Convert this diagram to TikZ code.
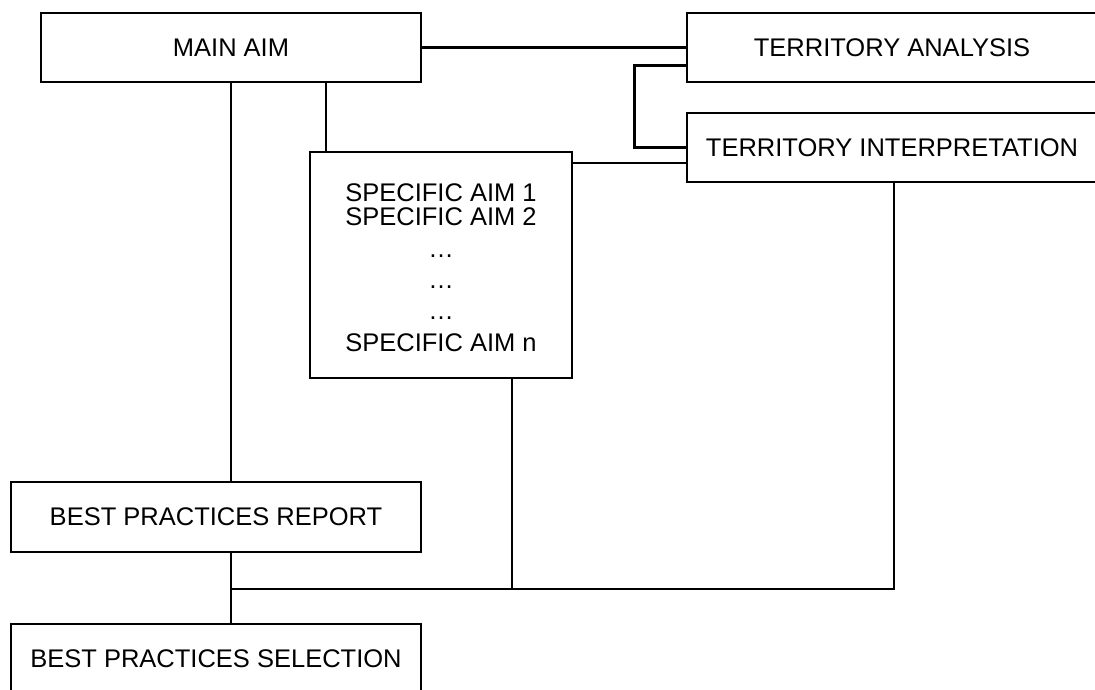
\documentclass[tikz,border=0pt]{standalone}
\usepackage{fontspec}
\setmainfont{Liberation Sans}
\tikzset{box/.style={draw, rectangle, minimum height=69pt, inner sep=0pt,
    font=\fontsize{25.5}{24}\selectfont}}
\begin{document}
\begin{tikzpicture}[x=1pt, y=-1pt, line width=2.6pt]
	\useasboundingbox (0,0) rectangle (1095,690);
	\clip (0,0) rectangle (1095,690);
	\node[box, minimum width=380pt] (main) at (231,47.5) {MAIN AIM};
	\node[box, minimum width=410pt] (analysis) at (892,47.5) {TERRITORY ANALYSIS};
	\node[box, minimum width=410pt] (interp) at (892,147.5) {TERRITORY INTERPRETATION};
	\node[box, align=center, minimum width=262pt, minimum height=226pt] (specific) at (441,265)
		{\rule{0pt}{24pt}SPECIFIC AIM 1\\SPECIFIC AIM 2\\[8pt]\dots\\[7pt]\dots\\[7pt]\dots\\[8pt]SPECIFIC AIM n};
	\node[box, minimum width=410pt, minimum height=70pt] (report) at (216,517) {BEST PRACTICES REPORT};
	\node[box, minimum width=410pt, minimum height=70pt] (selection) at (216,659) {BEST PRACTICES SELECTION};
	\coordinate (join) at (231,589);
	% links at the top
	\draw (main.east) -- (analysis.west);
	\draw ([yshift=-18pt]analysis.west) -- ++(-51,0) |- (interp.west);
	\draw ([yshift=-15.5pt]interp.west) -- ([yshift=-15.5pt]interp.west -| specific.east);
	\draw ([xshift=95pt]main.south) -- ([xshift=95pt]main.south |- specific.north);
	\draw (main.south) -- (report.north -| main.south);
	% bottom line
	\draw (report.south -| join) -- (selection.north -| join);
	\draw (join) -| ([xshift=2pt]interp.south);
	\draw ([xshift=71pt]specific.south) -- ([xshift=71pt]specific.south |- join);
\end{tikzpicture}
\end{document}
